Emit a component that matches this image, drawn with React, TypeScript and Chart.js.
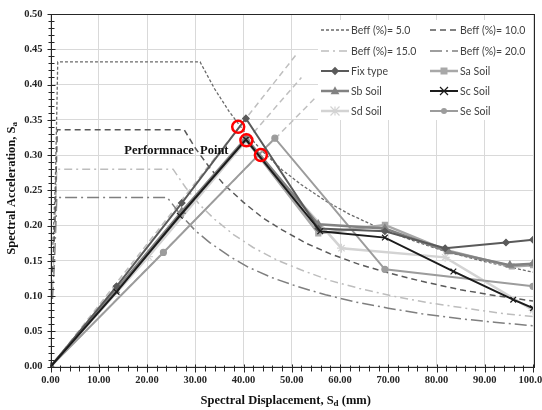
import React, { useEffect, useRef } from "react";
import { Chart, registerables } from "chart.js";
Chart.register(...registerables);

// ---- Demand spectra (Beff) ----
const beff5Sd = [0.5, 1.0, 1.3, 1.5, 31, 34, 37, 40, 44, 48, 52, 57, 62, 68, 75, 82, 90, 100];
const beff5Sa = [0.173, 0.26, 0.36, 0.432, 0.432, 0.394, 0.362, 0.335, 0.305, 0.279, 0.258, 0.235, 0.216, 0.197, 0.179, 0.163, 0.149, 0.134];
const beff10Sd = [0.4, 0.9, 1.2, 1.4, 27.7, 30, 33, 36, 40, 44, 48, 53, 58, 64, 70, 77, 85, 92, 100];
const beff10Sa = [0.134, 0.2, 0.28, 0.336, 0.336, 0.31, 0.282, 0.258, 0.233, 0.211, 0.194, 0.175, 0.16, 0.145, 0.133, 0.121, 0.109, 0.101, 0.093];
const beff15Sd = [0.4, 0.8, 1.1, 1.3, 25.4, 28, 31, 34, 38, 42, 47, 52, 58, 64, 71, 78, 86, 93, 100];
const beff15Sa = [0.112, 0.17, 0.235, 0.28, 0.28, 0.254, 0.229, 0.209, 0.187, 0.169, 0.151, 0.137, 0.122, 0.111, 0.1, 0.091, 0.083, 0.076, 0.071];
const beff20Sd = [0.4, 0.8, 1.1, 1.3, 24.2, 27, 30, 33, 37, 41, 46, 51, 57, 63, 70, 77, 85, 92, 100];
const beff20Sa = [0.096, 0.145, 0.2, 0.24, 0.24, 0.215, 0.193, 0.176, 0.157, 0.141, 0.126, 0.114, 0.102, 0.092, 0.083, 0.075, 0.068, 0.063, 0.058];

// ---- Capacity curves ----
const fixSd = [0, 13.7, 27.2, 40.5, 55.5, 69.3, 81.8, 94.4, 100];
const fixSa = [0, 0.114, 0.232, 0.352, 0.196, 0.192, 0.168, 0.176, 0.18];
const saSd = [0, 13.5, 27, 40.5, 55.5, 69.3, 82.1, 95.6, 100];
const saSa = [0, 0.107, 0.215, 0.322, 0.189, 0.201, 0.165, 0.142, 0.144];
const sbSd = [0, 13.5, 27.2, 40.5, 55.5, 69.3, 82.5, 95.2, 100];
const sbSa = [0, 0.108, 0.22, 0.324, 0.202, 0.196, 0.163, 0.144, 0.146];
const scSd = [0, 13.7, 26.8, 40.5, 55.9, 69.3, 83.5, 95.9, 100];
const scSa = [0, 0.106, 0.214, 0.322, 0.192, 0.183, 0.135, 0.095, 0.083];
const sdSd = [0, 20.3, 40.5, 60.3, 81.8, 100];
const sdSa = [0, 0.156, 0.32, 0.168, 0.155, 0.08];
const seSd = [0, 23.4, 46.5, 69.3, 100];
const seSa = [0, 0.162, 0.324, 0.138, 0.114];

// ---- Radial (period) guide lines ----
const radialSd = [[0, 51.0], [0, 52.0], [0, 55.0]];
const radialSa = [[0, 0.443], [0, 0.41], [0, 0.382]];

// ---- Performance points ----
const perfSd = [38.9, 40.6, 43.6];
const perfSa = [0.34, 0.321, 0.3];

const xTicks = [0, 10, 20, 30, 40, 50, 60, 70, 80, 90, 100];
const yTicks = [0, 0.05, 0.1, 0.15, 0.2, 0.25, 0.3, 0.35, 0.4, 0.45, 0.5];

const pts = (xs: number[], ys: number[]) => xs.map((x, i) => ({ x, y: ys[i] }));

type Entry = { label: string; color: string; width: number; dash: number[]; marker?: string; mr?: number };

const legendEntries: Entry[] = [
  { label: "Beff (%)= 5.0", color: "#6a6a6a", width: 1.3, dash: [3, 2] },
  { label: "Beff (%)= 10.0", color: "#595959", width: 1.5, dash: [6, 4] },
  { label: "Beff (%)= 15.0", color: "#bdbdbd", width: 1.5, dash: [8, 4, 2, 4] },
  { label: "Beff (%)= 20.0", color: "#7f7f7f", width: 1.5, dash: [12, 4, 2, 4] },
  { label: "Fix type", color: "#5a5a5a", width: 2, dash: [], marker: "rectRot", mr: 3.2 },
  { label: "Sa Soil", color: "#a8a8a8", width: 2.5, dash: [], marker: "rect", mr: 3.5 },
  { label: "Sb Soil", color: "#828282", width: 2.5, dash: [], marker: "triangle", mr: 4 },
  { label: "Sc Soil", color: "#1c1c1c", width: 2, dash: [], marker: "crossRot", mr: 4 },
  { label: "Sd Soil", color: "#d3d3d3", width: 2.5, dash: [], marker: "star", mr: 4.5 },
  { label: "Se Soil", color: "#9c9c9c", width: 2, dash: [], marker: "circle", mr: 3 },
];

function drawMarker(ctx: CanvasRenderingContext2D, style: string, x: number, y: number, r: number, color: string) {
  ctx.save();
  ctx.fillStyle = color;
  ctx.strokeStyle = color;
  ctx.lineWidth = 1.2;
  ctx.setLineDash([]);
  ctx.beginPath();
  if (style === "rect") {
    ctx.rect(x - r, y - r, 2 * r, 2 * r);
    ctx.fill();
  } else if (style === "rectRot") {
    ctx.moveTo(x, y - r * 1.3);
    ctx.lineTo(x + r * 1.3, y);
    ctx.lineTo(x, y + r * 1.3);
    ctx.lineTo(x - r * 1.3, y);
    ctx.closePath();
    ctx.fill();
  } else if (style === "triangle") {
    ctx.moveTo(x, y - r * 1.2);
    ctx.lineTo(x + r * 1.1, y + r * 0.8);
    ctx.lineTo(x - r * 1.1, y + r * 0.8);
    ctx.closePath();
    ctx.fill();
  } else if (style === "crossRot") {
    ctx.moveTo(x - r, y - r);
    ctx.lineTo(x + r, y + r);
    ctx.moveTo(x + r, y - r);
    ctx.lineTo(x - r, y + r);
    ctx.stroke();
  } else if (style === "star") {
    ctx.moveTo(x - r, y - r);
    ctx.lineTo(x + r, y + r);
    ctx.moveTo(x + r, y - r);
    ctx.lineTo(x - r, y + r);
    ctx.moveTo(x, y - r);
    ctx.lineTo(x, y + r);
    ctx.moveTo(x - r, y);
    ctx.lineTo(x + r, y);
    ctx.stroke();
  } else {
    ctx.arc(x, y, r, 0, Math.PI * 2);
    ctx.fill();
  }
  ctx.restore();
}

const serif = '"Liberation Serif", "Times New Roman", serif';

const decorPlugin = {
  id: "decor",
  afterDraw(chart: any) {
    const { ctx, chartArea: a, scales } = chart;
    const xs = scales.x;
    const ys = scales.y;
    ctx.save();
    // plot border
    ctx.strokeStyle = "#262626";
    ctx.lineWidth = 1;
    ctx.setLineDash([]);
    ctx.strokeRect(Math.round(a.left) + 0.5, Math.round(a.top) + 0.5, Math.round(a.right - a.left), Math.round(a.bottom - a.top));
    // tick marks
    ctx.beginPath();
    for (let v = 0; v <= 50; v++) {
      const py = Math.round(ys.getPixelForValue(v / 100)) + 0.5;
      const major = v % 5 === 0;
      const l = Math.round(a.left) + 0.5;
      ctx.moveTo(l - (major ? 4 : 3), py);
      ctx.lineTo(l + (major ? 4 : 3), py);
    }
    for (let v = 0; v <= 100; v += 2) {
      const px = Math.round(xs.getPixelForValue(v)) + 0.5;
      const major = v % 10 === 0;
      const b = Math.round(a.bottom) + 0.5;
      ctx.moveTo(px, b - (major ? 3 : 2));
      ctx.lineTo(px, b + (major ? 5 : 4));
    }
    ctx.stroke();

    // Performance point label
    ctx.fillStyle = "#111";
    ctx.font = `bold 12.5px ${serif}`;
    ctx.textAlign = "center";
    ctx.textBaseline = "middle";
    ctx.fillText("Performnace  Point", xs.getPixelForValue(26.1), ys.getPixelForValue(0.306));

    // axis titles with subscripts
    const drawTitle = (main: string, sub: string, tail: string, cx: number, cy: number, rot: number) => {
      ctx.save();
      ctx.translate(cx, cy);
      ctx.rotate(rot);
      ctx.textAlign = "left";
      ctx.textBaseline = "middle";
      const f1 = `bold 12.5px ${serif}`;
      const f2 = `bold 9px ${serif}`;
      ctx.font = f1;
      const w1 = ctx.measureText(main).width;
      const w3 = ctx.measureText(tail).width;
      ctx.font = f2;
      const w2 = ctx.measureText(sub).width;
      let x0 = -(w1 + w2 + w3) / 2;
      ctx.font = f1;
      ctx.fillText(main, x0, 0);
      ctx.font = f2;
      ctx.fillText(sub, x0 + w1, 3);
      ctx.font = f1;
      ctx.fillText(tail, x0 + w1 + w2, 0);
      ctx.restore();
    };
    drawTitle("Spectral Displacement, S", "d", " (mm)", (a.left + a.right) / 2 - 6, 401, 0);
    drawTitle("Spectral Acceleration, S", "a", "", 12, (a.top + a.bottom) / 2 - 2, -Math.PI / 2);

    // legend
    ctx.fillStyle = "#ffffff";
    ctx.fillRect(318, 20, a.right - 318, 100);
    const rowsY = [30, 51, 71, 91, 111];
    const colX = [321, 430];
    ctx.font = `10.5px Lato, "Open Sans", sans-serif`;
    ctx.textAlign = "left";
    ctx.textBaseline = "middle";
    legendEntries.forEach((e, i) => {
      const r = Math.floor(i / 2);
      const c = i % 2;
      const x = colX[c];
      const y = rowsY[r];
      ctx.save();
      ctx.strokeStyle = e.color;
      ctx.lineWidth = e.width;
      ctx.setLineDash(e.dash);
      ctx.beginPath();
      ctx.moveTo(x, y);
      ctx.lineTo(x + 28, y);
      ctx.stroke();
      ctx.restore();
      if (e.marker) drawMarker(ctx, e.marker, x + 14, y, e.mr || 3, e.color);
      ctx.fillStyle = "#404040";
      ctx.fillText(e.label, x + 30, y + 0.5);
    });
    ctx.restore();
  },
};

export default function App() {
  const ref = useRef<HTMLCanvasElement | null>(null);
  useEffect(() => {
    document.body.style.margin = "0";
    if (!ref.current) return;
    const E = legendEntries;
    const demand = (e: Entry, xs: number[], ys: number[]) => ({
      label: e.label,
      data: pts(xs, ys),
      borderColor: e.color,
      borderWidth: e.width,
      borderDash: e.dash,
      pointRadius: 0,
      fill: false,
      tension: 0,
    });
    const soil = (e: Entry, xs: number[], ys: number[]) => ({
      label: e.label,
      data: pts(xs, ys),
      borderColor: e.color,
      backgroundColor: e.color,
      borderWidth: e.width,
      pointStyle: e.marker,
      pointRadius: e.mr,
      pointBorderWidth: 1.2,
      pointBorderColor: e.color,
      pointBackgroundColor: e.color,
      fill: false,
      tension: 0,
    });
    const datasets: any[] = [
      {
        label: "Performance points",
        data: pts(perfSd, perfSa),
        showLine: false,
        pointRadius: 6,
        pointBorderWidth: 2.5,
        pointBorderColor: "#ff0000",
        pointBackgroundColor: "rgba(0,0,0,0)",
        pointStyle: "circle",
      },
      soil(E[7], scSd, scSa),
      soil(E[4], fixSd, fixSa),
      soil(E[6], sbSd, sbSa),
      soil(E[5], saSd, saSa),
      soil(E[9], seSd, seSa),
      soil(E[8], sdSd, sdSa),
      demand(E[0], beff5Sd, beff5Sa),
      demand(E[1], beff10Sd, beff10Sa),
      demand(E[2], beff15Sd, beff15Sa),
      demand(E[3], beff20Sd, beff20Sa),
      ...radialSd.map((xs, i) => ({
        label: "radial" + i,
        data: pts(xs, radialSa[i]),
        borderColor: "#bfbfbf",
        borderWidth: 1.5,
        borderDash: [6, 4],
        pointRadius: 0,
        fill: false,
      })),
    ];
    const tickFont = { family: serif, weight: "bold" as const, size: 10.5 };
    const chart = new Chart(ref.current, {
      type: "line",
      data: { datasets },
      options: {
        animation: false,
        responsive: false,
        devicePixelRatio: 1,
        layout: { padding: { top: 14, right: 9, left: 0, bottom: 0 } },
        plugins: { legend: { display: false }, tooltip: { enabled: false } },
        scales: {
          x: {
            type: "linear",
            min: 0,
            max: 100,
            afterBuildTicks: (s: any) => {
              s.ticks = xTicks.map((v) => ({ value: v }));
            },
            ticks: {
              font: tickFont,
              color: "#262626",
              padding: 7,
              maxRotation: 0,
              autoSkip: false,
              callback: (v: any) => Number(v).toFixed(2),
            },
            grid: { color: "#d9d9d9", drawTicks: false, lineWidth: 1 },
            border: { display: false },
            afterFit: (s: any) => {
              s.height = 43.3;
              s.paddingLeft = 0;
              s.paddingRight = 0;
            },
          },
          y: {
            type: "linear",
            min: 0,
            max: 0.5,
            afterBuildTicks: (s: any) => {
              s.ticks = yTicks.map((v) => ({ value: v }));
            },
            ticks: {
              font: tickFont,
              color: "#262626",
              padding: 8,
              autoSkip: false,
              callback: (v: any) => Number(v).toFixed(2),
            },
            grid: { color: "#d9d9d9", drawTicks: false, lineWidth: 1 },
            border: { display: false },
            afterFit: (s: any) => {
              s.width = 50.5;
              s.paddingTop = 0;
              s.paddingBottom = 0;
            },
          },
        },
      } as any,
      plugins: [decorPlugin],
    });
    return () => chart.destroy();
  }, []);
  return (
    <div style={{ width: 542, height: 410 }}>
      <canvas ref={ref} width={542} height={410} />
    </div>
  );
}
